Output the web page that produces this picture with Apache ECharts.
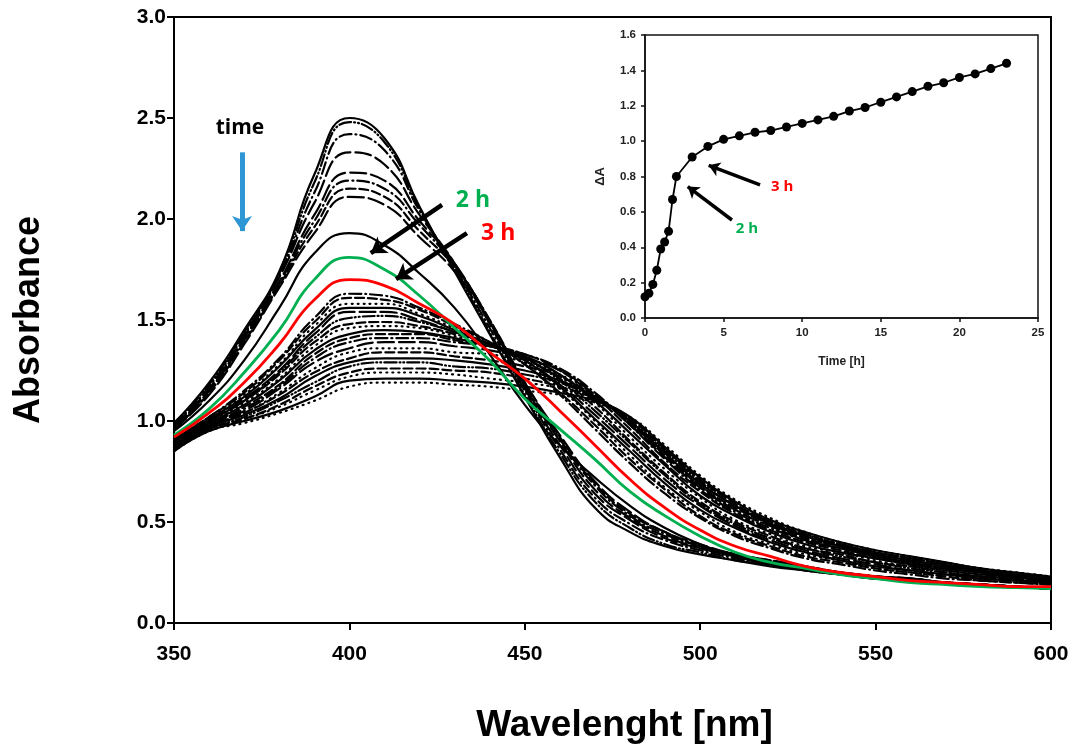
<!DOCTYPE html>
<html>
<head>
<meta charset="UTF-8">
<title>Absorbance vs wavelength</title>
<script src="https://cdn.jsdelivr.net/npm/echarts@6.0.0/dist/echarts.min.js"></script>
<style>
  html, body { margin: 0; padding: 0; background: #fff; }
  #chart { width: 1078px; height: 750px; }
</style>
</head>
<body>
<div id="chart"></div>
<script type="text/javascript">
// wavelength grid [nm]
var wl = [350,360,370,380,390,400,410,420,430,440,450,460,470,480,490,500,510,520,530,540,550,560,570,580,590,600];

// early spectra (0 - 1.75 h)
var e0h   = [0.99,1.19,1.45,1.74,2.22,2.50,2.40,2.06,1.74,1.43,1.12,0.82,0.57,0.45,0.38,0.34,0.31,0.28,0.26,0.24,0.22,0.21,0.20,0.19,0.18,0.17];
var e025h = [0.99,1.18,1.44,1.73,2.18,2.48,2.38,2.05,1.75,1.44,1.13,0.84,0.60,0.47,0.39,0.35,0.31,0.29,0.26,0.24,0.22,0.21,0.20,0.19,0.18,0.17];
var e05h  = [0.98,1.17,1.43,1.72,2.13,2.42,2.34,2.04,1.76,1.46,1.15,0.86,0.62,0.49,0.41,0.36,0.32,0.29,0.27,0.25,0.23,0.21,0.20,0.19,0.18,0.17];
var e075h = [0.98,1.16,1.42,1.71,2.08,2.33,2.27,2.02,1.78,1.48,1.16,0.88,0.64,0.51,0.42,0.37,0.33,0.30,0.27,0.25,0.23,0.21,0.20,0.19,0.18,0.17];
var e1h   = [0.97,1.15,1.41,1.69,2.02,2.23,2.19,1.99,1.78,1.49,1.17,0.90,0.66,0.52,0.43,0.37,0.33,0.30,0.27,0.25,0.23,0.22,0.20,0.19,0.18,0.17];
var e125h = [0.97,1.15,1.40,1.68,1.99,2.19,2.15,1.97,1.77,1.50,1.18,0.91,0.68,0.53,0.44,0.38,0.34,0.30,0.28,0.25,0.23,0.22,0.20,0.19,0.18,0.17];
var e15h  = [0.96,1.14,1.39,1.67,1.96,2.15,2.11,1.94,1.76,1.50,1.19,0.92,0.69,0.54,0.45,0.38,0.34,0.31,0.28,0.25,0.23,0.22,0.20,0.19,0.18,0.17];
var e175h = [0.96,1.13,1.38,1.66,1.93,2.11,2.07,1.91,1.74,1.49,1.19,0.93,0.70,0.55,0.45,0.39,0.34,0.31,0.28,0.25,0.23,0.22,0.20,0.19,0.18,0.17];
var e19h  = [0.95,1.10,1.30,1.56,1.83,1.93,1.87,1.73,1.56,1.33,1.08,0.88,0.72,0.58,0.47,0.39,0.33,0.29,0.26,0.24,0.22,0.21,0.20,0.19,0.18,0.17];

// highlighted spectra
var green2h = [0.93,1.06,1.24,1.45,1.70,1.81,1.75,1.62,1.46,1.30,1.11,0.96,0.81,0.65,0.53,0.43,0.35,0.30,0.27,0.24,0.22,0.20,0.19,0.18,0.175,0.17];
var red3h   = [0.92,1.04,1.19,1.38,1.60,1.70,1.67,1.58,1.48,1.34,1.21,1.05,0.88,0.71,0.57,0.46,0.38,0.33,0.28,0.25,0.23,0.21,0.20,0.19,0.18,0.18];

// late spectra (4 - 23 h)
var l4h  = [0.91,1.02,1.15,1.31,1.51,1.63,1.62,1.56,1.48,1.39,1.28,1.13,0.96,0.79,0.64,0.52,0.43,0.37,0.32,0.29,0.26,0.24,0.22,0.21,0.20,0.19];
var l5h  = [0.91,1.02,1.14,1.30,1.49,1.61,1.60,1.55,1.47,1.39,1.28,1.14,0.98,0.81,0.66,0.53,0.44,0.38,0.33,0.30,0.27,0.25,0.23,0.21,0.20,0.19];
var l6h  = [0.90,1.01,1.13,1.28,1.47,1.58,1.58,1.53,1.46,1.39,1.29,1.16,1.00,0.83,0.67,0.55,0.45,0.39,0.34,0.31,0.27,0.25,0.23,0.22,0.21,0.19];
var l7h  = [0.90,1.01,1.12,1.27,1.45,1.56,1.56,1.52,1.45,1.38,1.30,1.17,1.01,0.85,0.69,0.56,0.47,0.40,0.35,0.31,0.28,0.26,0.24,0.22,0.21,0.20];
var l8h  = [0.90,1.00,1.11,1.25,1.43,1.54,1.54,1.50,1.44,1.38,1.30,1.18,1.03,0.87,0.71,0.58,0.48,0.41,0.36,0.32,0.29,0.26,0.24,0.23,0.21,0.20];
var l9h  = [0.90,1.00,1.10,1.24,1.41,1.51,1.52,1.49,1.44,1.38,1.31,1.20,1.05,0.89,0.73,0.59,0.49,0.42,0.37,0.33,0.30,0.27,0.25,0.23,0.22,0.20];
var l10h = [0.89,1.00,1.10,1.23,1.39,1.48,1.49,1.47,1.43,1.38,1.31,1.21,1.07,0.90,0.74,0.60,0.50,0.43,0.37,0.34,0.30,0.28,0.25,0.23,0.22,0.20];
var l11h = [0.89,0.99,1.09,1.21,1.37,1.46,1.47,1.46,1.42,1.37,1.32,1.22,1.09,0.92,0.76,0.62,0.51,0.44,0.38,0.35,0.31,0.28,0.26,0.24,0.22,0.20];
var l12h = [0.89,0.99,1.08,1.20,1.35,1.43,1.45,1.44,1.41,1.37,1.32,1.23,1.10,0.94,0.78,0.63,0.53,0.45,0.39,0.35,0.32,0.29,0.26,0.24,0.23,0.21];
var l13h = [0.88,0.98,1.07,1.18,1.33,1.41,1.43,1.43,1.40,1.37,1.33,1.25,1.12,0.96,0.79,0.65,0.54,0.46,0.40,0.36,0.32,0.29,0.27,0.25,0.23,0.21];
var l14h = [0.88,0.98,1.06,1.17,1.31,1.39,1.41,1.41,1.39,1.37,1.33,1.26,1.14,0.98,0.81,0.66,0.55,0.47,0.41,0.37,0.33,0.30,0.27,0.25,0.23,0.21];
var l15h = [0.88,0.98,1.05,1.16,1.29,1.36,1.39,1.39,1.37,1.35,1.31,1.25,1.13,0.98,0.82,0.67,0.56,0.48,0.41,0.37,0.33,0.30,0.27,0.25,0.23,0.21];
var l16h = [0.87,0.97,1.04,1.14,1.26,1.34,1.36,1.36,1.34,1.33,1.29,1.23,1.13,0.99,0.83,0.68,0.56,0.48,0.42,0.38,0.34,0.31,0.28,0.25,0.23,0.21];
var l17h = [0.87,0.97,1.04,1.13,1.24,1.31,1.34,1.34,1.32,1.30,1.27,1.22,1.12,0.99,0.83,0.68,0.57,0.49,0.42,0.38,0.34,0.31,0.28,0.26,0.24,0.22];
var l18h = [0.87,0.97,1.03,1.11,1.22,1.29,1.31,1.31,1.30,1.28,1.25,1.20,1.12,1.00,0.84,0.69,0.58,0.49,0.43,0.38,0.34,0.31,0.28,0.26,0.24,0.22];
var l19h = [0.86,0.96,1.02,1.10,1.19,1.27,1.29,1.29,1.27,1.26,1.23,1.19,1.11,1.00,0.85,0.70,0.58,0.50,0.43,0.39,0.35,0.32,0.29,0.26,0.24,0.22];
var l20h = [0.86,0.96,1.01,1.08,1.17,1.24,1.26,1.26,1.25,1.24,1.21,1.17,1.11,1.01,0.86,0.71,0.59,0.50,0.44,0.39,0.35,0.32,0.29,0.26,0.24,0.22];
var l21h = [0.86,0.96,1.01,1.07,1.15,1.22,1.24,1.24,1.23,1.21,1.19,1.16,1.10,1.01,0.86,0.71,0.60,0.51,0.44,0.39,0.35,0.32,0.29,0.27,0.25,0.23];
var l22h = [0.85,0.95,1.00,1.05,1.12,1.20,1.21,1.21,1.20,1.19,1.17,1.14,1.10,1.02,0.87,0.72,0.60,0.51,0.45,0.40,0.36,0.33,0.30,0.27,0.25,0.23];
var l23h = [0.85,0.95,0.99,1.04,1.10,1.17,1.19,1.19,1.18,1.17,1.15,1.13,1.09,1.02,0.88,0.73,0.61,0.52,0.45,0.40,0.36,0.33,0.30,0.27,0.25,0.23];

// inset: delta A vs time
var timeH  = [0,0.25,0.5,0.75,1,1.25,1.5,1.75,2,3,4,5,6,7,8,9,10,11,12,13,14,15,16,17,18,19,20,21,22,23];
var deltaA = [0.12,0.14,0.19,0.27,0.39,0.43,0.49,0.67,0.80,0.91,0.97,1.01,1.03,1.05,1.06,1.08,1.10,1.12,1.14,1.17,1.19,1.22,1.25,1.28,1.31,1.33,1.36,1.38,1.41,1.44];

// dash patterns
var SOLID = 'solid', DOT = [1,5], DASH = [9,4], LDASH = [16,5], DDOT = [12,4,1,4], DDDOT = [12,3,1,3,1,3];

var specList = [
  [e0h, SOLID], [e025h, DDDOT], [e05h, DDOT], [e075h, LDASH], [e1h, LDASH],
  [e125h, DDOT], [e15h, DASH], [e175h, LDASH], [e19h, SOLID],
  [l4h, DDOT], [l5h, DASH], [l6h, DOT], [l7h, SOLID], [l8h, LDASH],
  [l9h, DDDOT], [l10h, DASH], [l11h, DOT], [l12h, SOLID], [l13h, DASH],
  [l14h, DDOT], [l15h, LDASH], [l16h, DOT], [l17h, DASH], [l18h, SOLID],
  [l19h, DDDOT], [l20h, DASH], [l21h, DOT], [l22h, SOLID], [l23h, DOT]
];

function pairs(vals) {
  return wl.map(function (w, i) { return [w, vals[i]]; });
}

var axisFont = 'Liberation Sans, Arial, sans-serif';
var noteFont = 'Open Sans, Lato, sans-serif';

var series = specList.map(function (s) {
  return {
    type: 'line', xAxisIndex: 0, yAxisIndex: 0,
    data: pairs(s[0]), smooth: true, showSymbol: false, silent: true,
    lineStyle: { color: '#000', width: 2.2, type: s[1], cap: 'round' }
  };
});

series.push({
  type: 'line', xAxisIndex: 0, yAxisIndex: 0,
  data: pairs(green2h), smooth: true, showSymbol: false, silent: true,
  lineStyle: { color: '#00b050', width: 2.8 }
});

series.push({
  type: 'line', xAxisIndex: 0, yAxisIndex: 0,
  data: pairs(red3h), smooth: true, showSymbol: false, silent: true,
  lineStyle: { color: '#ff0000', width: 2.8 },
  markLine: {
    silent: true, symbol: ['none', 'arrow'], symbolSize: 15,
    label: { show: false },
    lineStyle: { color: '#000', width: 4.5, type: 'solid' },
    data: [
      [{ coord: [426.4, 2.07] }, { coord: [406.1, 1.831] }],
      [{ coord: [433.5, 1.93] }, { coord: [413.3, 1.702] }],
      [{ coord: [369.4, 2.33], lineStyle: { color: '#2e96d4', width: 5 }, symbolSize: 14 }, { coord: [369.4, 1.94] }]
    ]
  },
  markPoint: {
    silent: true, symbol: 'rect', symbolSize: 1,
    itemStyle: { color: 'rgba(0,0,0,0)' },
    data: [
      { coord: [368.8, 2.45], label: { show: true, formatter: 'time', color: '#000', fontSize: 21, fontWeight: 'bold', fontFamily: noteFont } },
      { coord: [435.2, 2.094], label: { show: true, formatter: '2 h', color: '#00b050', fontSize: 23, fontWeight: 'bold', fontFamily: noteFont } },
      { coord: [442.4, 1.93], label: { show: true, formatter: '3 h', color: '#ff0000', fontSize: 23, fontWeight: 'bold', fontFamily: noteFont } }
    ]
  }
});

// inset series
series.push({
  type: 'line', xAxisIndex: 1, yAxisIndex: 1,
  data: timeH.map(function (t, i) { return [t, deltaA[i]]; }),
  symbol: 'circle', symbolSize: 9, silent: true,
  itemStyle: { color: '#000' },
  lineStyle: { color: '#000', width: 1.8 },
  markLine: {
    silent: true, symbol: ['none', 'arrow'], symbolSize: 11,
    label: { show: false },
    lineStyle: { color: '#000', width: 3.5, type: 'solid' },
    data: [
      [{ coord: [7.32, 0.752] }, { coord: [4.05, 0.863] }],
      [{ coord: [5.53, 0.554] }, { coord: [2.72, 0.743] }]
    ]
  },
  markPoint: {
    silent: true, symbol: 'rect', symbolSize: 1,
    itemStyle: { color: 'rgba(0,0,0,0)' },
    data: [
      { coord: [8.72, 0.741], label: { show: true, formatter: '3 h', color: '#ff0000', fontSize: 15, fontWeight: 'bold', fontFamily: noteFont } },
      { coord: [6.49, 0.503], label: { show: true, formatter: '2 h', color: '#00b050', fontSize: 15, fontWeight: 'bold', fontFamily: noteFont } }
    ]
  }
});

var chart = echarts.init(document.getElementById('chart'), null, { renderer: 'canvas' });

var option = {
  animation: false,
  backgroundColor: '#fff',
  grid: [
    { left: 174, right: 27, top: 17, bottom: 127, show: true, borderColor: '#000', borderWidth: 2, outerBoundsMode: 'none' },
    { left: 645, right: 40, top: 35, bottom: 432, show: true, borderColor: '#111', borderWidth: 1.5, outerBoundsMode: 'none' }
  ],
  xAxis: [
    {
      type: 'value', gridIndex: 0, min: 350, max: 600, interval: 50,
      name: 'Wavelenght [nm]', nameLocation: 'middle', nameGap: 84,
      nameTextStyle: { fontFamily: axisFont, fontWeight: 'bold', fontSize: 37, color: '#000', padding: [0, 0, 0, 24] },
      axisLine: { lineStyle: { color: '#000', width: 2 } },
      axisTick: { length: 7, lineStyle: { color: '#000', width: 2 } },
      axisLabel: { fontFamily: axisFont, fontWeight: 'bold', fontSize: 21, color: '#000', margin: 21 },
      splitLine: { show: false }
    },
    {
      type: 'value', gridIndex: 1, min: 0, max: 25, interval: 5,
      name: 'Time [h]', nameLocation: 'middle', nameGap: 38,
      nameTextStyle: { fontFamily: axisFont, fontWeight: 'bold', fontSize: 12, color: '#222' },
      axisLine: { lineStyle: { color: '#111', width: 1.5 } },
      axisTick: { length: 4, lineStyle: { color: '#111', width: 1.5 } },
      axisLabel: { fontFamily: axisFont, fontWeight: 'bold', fontSize: 11.5, color: '#222', margin: 9 },
      splitLine: { show: false }
    }
  ],
  yAxis: [
    {
      type: 'value', gridIndex: 0, min: 0, max: 3, interval: 0.5,
      name: 'Absorbance', nameLocation: 'middle', nameGap: 127, nameRotate: 90,
      nameTextStyle: { fontFamily: axisFont, fontWeight: 'bold', fontSize: 36, color: '#000' },
      axisLine: { lineStyle: { color: '#000', width: 2 } },
      axisTick: { length: 7, lineStyle: { color: '#000', width: 2 } },
      axisLabel: { fontFamily: axisFont, fontWeight: 'bold', fontSize: 21, color: '#000', margin: 8,
        formatter: function (v) { return v.toFixed(1); } },
      splitLine: { show: false }
    },
    {
      type: 'value', gridIndex: 1, min: 0, max: 1.6, interval: 0.2,
      name: 'ΔA', nameLocation: 'middle', nameGap: 38, nameRotate: 90,
      nameTextStyle: { fontFamily: axisFont, fontWeight: 'bold', fontSize: 13, color: '#222' },
      axisLine: { lineStyle: { color: '#111', width: 1.5 } },
      axisTick: { length: 4, lineStyle: { color: '#111', width: 1.5 } },
      axisLabel: { fontFamily: axisFont, fontWeight: 'bold', fontSize: 11.5, color: '#222', margin: 9,
        formatter: function (v) { return v.toFixed(1); } },
      splitLine: { show: false }
    }
  ],
  series: series
};

chart.setOption(option);
</script>
</body>
</html>
